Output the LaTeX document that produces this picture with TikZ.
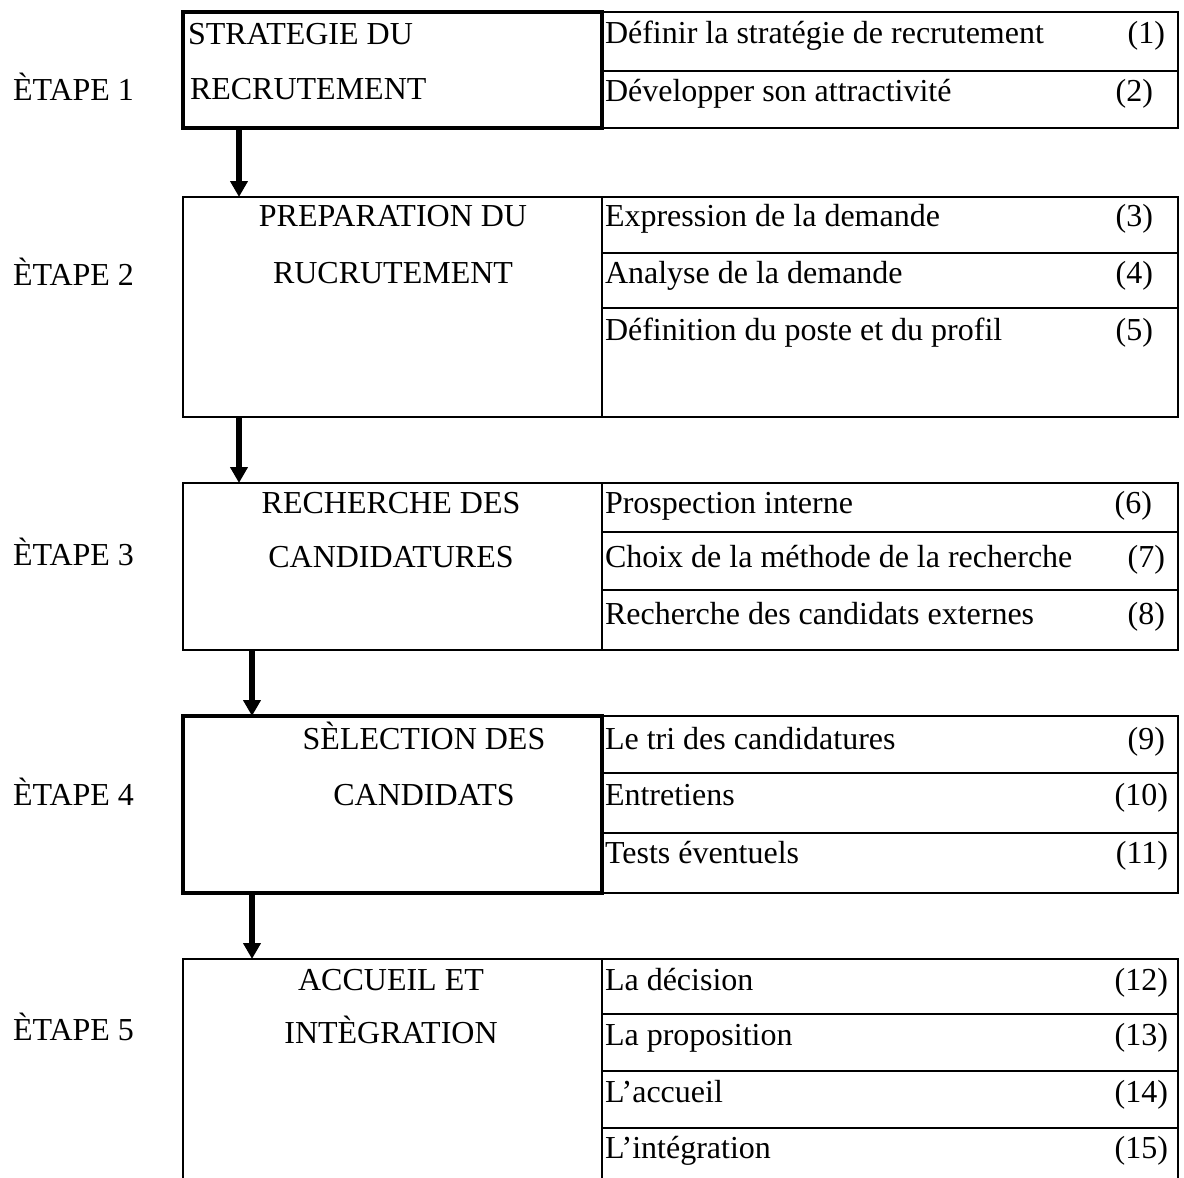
\documentclass[tikz,border=0pt]{standalone}
\usepackage{fontspec}
\setmainfont{Liberation Serif}
\usetikzlibrary{fit,arrows.meta}
\begin{document}
\begin{tikzpicture}[x=0.5pt,y=-0.5pt,
  cell/.style={draw, line width=1pt, inner sep=0pt, outer sep=0pt},
  thickbox/.style={draw, line width=2.2pt, inner sep=0pt, outer sep=0pt},
  txt/.style={font=\fontsize{16pt}{19pt}\selectfont, inner sep=0pt, outer sep=0pt},
  lt/.style={txt, anchor=base west},
  rt/.style={txt, anchor=base east},
  ct/.style={txt, anchor=base},
  flow/.style={line width=2.8pt, -{Triangle[width=8.5pt,length=8pt]}}]
\useasboundingbox (0,0) rectangle (1184,1178);
\clip (0,0) rectangle (1184,1178);

% ---------- Stage 1 ----------
\node[cell, fit={(602,12)(1178,71)}] (c1) {};
\node[cell, fit={(602,71)(1178,128)}] (c2) {};
\node[thickbox, fit={(183,12)(602,128)}] (L1) {};
\node[lt] (s1a) at (188,44) {STRATEGIE DU};
\node[lt] (s1b) at (190,99) {RECRUTEMENT};
\node[lt] (t1) at (605,43) {Définir la stratégie de recrutement};
\node[rt] (n1) at (1165,43) {(1)};
\node[lt] (t2) at (605,101) {Développer son attractivité};
\node[rt] (n2) at (1153,101) {(2)};
\node[lt] (e1) at (13,100) {ÈTAPE 1};

% ---------- Stage 2 ----------
\node[cell, fit={(183,197)(602,417)}] (L2) {};
\node[cell, fit={(602,197)(1178,253)}] (c3) {};
\node[cell, fit={(602,253)(1178,308)}] (c4) {};
\node[cell, fit={(602,308)(1178,417)}] (c5) {};
\node[ct] (s2a) at (393,226) {PREPARATION DU};
\node[ct] (s2b) at (393,283) {RUCRUTEMENT};
\node[lt] (t3) at (605,226) {Expression de la demande};
\node[rt] (n3) at (1153,226) {(3)};
\node[lt] (t4) at (605,283) {Analyse de la demande};
\node[rt] (n4) at (1153,283) {(4)};
\node[lt] (t5) at (605,340) {Définition du poste et du profil};
\node[rt] (n5) at (1153,340) {(5)};
\node[lt] (e2) at (13,285) {ÈTAPE 2};

% ---------- Stage 3 ----------
\node[cell, fit={(183,483)(602,650)}] (L3) {};
\node[cell, fit={(602,483)(1178,532)}] (c6) {};
\node[cell, fit={(602,532)(1178,590)}] (c7) {};
\node[cell, fit={(602,590)(1178,650)}] (c8) {};
\node[ct] (s3a) at (391,513) {RECHERCHE DES};
\node[ct] (s3b) at (391,567) {CANDIDATURES};
\node[lt] (t6) at (605,513) {Prospection interne};
\node[rt] (n6) at (1152,513) {(6)};
\node[lt] (t7) at (605,567) {Choix de la méthode de la recherche};
\node[rt] (n7) at (1165,567) {(7)};
\node[lt] (t8) at (605,624) {Recherche des candidats externes};
\node[rt] (n8) at (1165,624) {(8)};
\node[lt] (e3) at (13,565) {ÈTAPE 3};

% ---------- Stage 4 ----------
\node[cell, fit={(602,716)(1178,773)}] (c9) {};
\node[cell, fit={(602,773)(1178,833)}] (c10) {};
\node[cell, fit={(602,833)(1178,893)}] (c11) {};
\node[thickbox, fit={(183,716)(602,893)}] (L4) {};
\node[ct] (s4a) at (424,749) {SÈLECTION DES};
\node[ct] (s4b) at (424,805) {CANDIDATS};
\node[lt] (t9) at (605,749) {Le tri des candidatures};
\node[rt] (n9) at (1165,749) {(9)};
\node[lt] (t10) at (605,805) {Entretiens};
\node[rt] (n10) at (1168,805) {(10)};
\node[lt] (t11) at (605,863) {Tests éventuels};
\node[rt] (n11) at (1168,863) {(11)};
\node[lt] (e4) at (13,805) {ÈTAPE 4};

% ---------- Stage 5 ----------
\node[cell, fit={(183,959)(602,1200)}] (L5) {};
\node[cell, fit={(602,959)(1178,1014)}] (c12) {};
\node[cell, fit={(602,1014)(1178,1071)}] (c13) {};
\node[cell, fit={(602,1071)(1178,1128)}] (c14) {};
\node[cell, fit={(602,1128)(1178,1200)}] (c15) {};
\node[ct] (s5a) at (391,990) {ACCUEIL ET};
\node[ct] (s5b) at (391,1043) {INTÈGRATION};
\node[lt] (t12) at (605,990) {La décision};
\node[rt] (n12) at (1168,990) {(12)};
\node[lt] (t13) at (605,1045) {La proposition};
\node[rt] (n13) at (1168,1045) {(13)};
\node[lt] (t14) at (605,1102) {L’accueil};
\node[rt] (n14) at (1168,1102) {(14)};
\node[lt] (t15) at (605,1158) {L’intégration};
\node[rt] (n15) at (1168,1158) {(15)};
\node[lt] (e5) at (13,1040) {ÈTAPE 5};

% ---------- Connectors ----------
\draw[flow] ([xshift=28pt]L1.south west) -- ([xshift=28pt]L2.north west);
\draw[flow] ([xshift=28pt]L2.south west) -- ([xshift=28pt]L3.north west);
\draw[flow] ([xshift=34.5pt]L3.south west) -- ([xshift=34.5pt]L4.north west);
\draw[flow] ([xshift=34.5pt]L4.south west) -- ([xshift=34.5pt]L5.north west);
\end{tikzpicture}
\end{document}
